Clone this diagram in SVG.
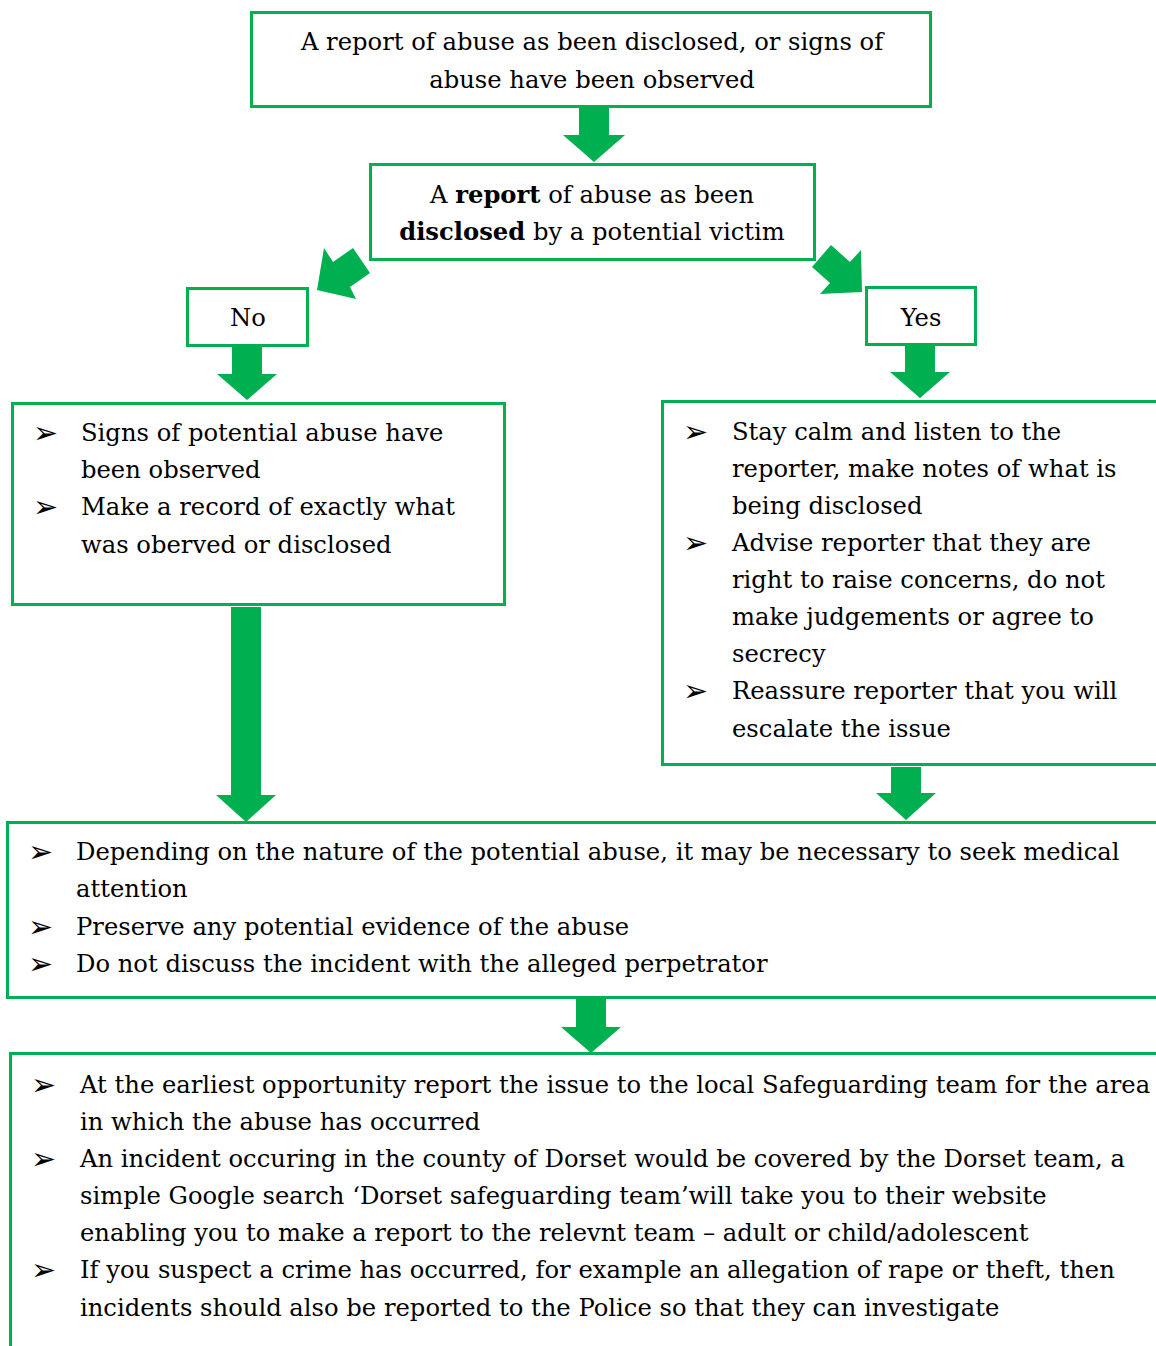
<svg xmlns="http://www.w3.org/2000/svg" width="1156" height="1346" viewBox="0 0 1156 1346">
<style>
.box{fill:#fff;stroke:#00B050;stroke-width:3}
.arr{fill:#00B050}
text{font-family:"DejaVu Serif","Liberation Serif",serif;font-size:24.25px;fill:#000}
.c{text-anchor:middle}
.b{font-weight:bold}
.bl{font-family:"DejaVu Sans",sans-serif;font-size:30px}
</style>
<rect width="1156" height="1346" fill="#fff"/>
<g id="connectors">
<polygon class="arr" points="579,108 609,108 609,135 625,135 594,162 563,135 579,135"/>
<polygon class="arr" points="353,248 370,273 350,287 356,299 317,290 324,248 333,262"/>
<polygon class="arr" points="831,245 812,267 830,283 820,294 862,292 861,250 850,262"/>
<polygon class="arr" points="232,347 262,347 262,374 277,374 247,400 217,374 232,374"/>
<polygon class="arr" points="905,345 935,345 935,372 950,372 920,398 890,372 905,372"/>
<polygon class="arr" points="231,607 261,607 261,795 276,795 246,822 216,795 231,795"/>
<polygon class="arr" points="891,767 921,767 921,793 936,793 906,820 876,793 891,793"/>
<polygon class="arr" points="576,999 606,999 606,1027 621,1027 591,1053 561,1027 576,1027"/>
</g>
<g id="n1">
<rect class="box" x="251.5" y="12.5" width="679" height="94"/>
<text class="c" x="592" y="50">A report of abuse as been disclosed, or signs of</text>
<text class="c" x="592" y="88">abuse have been observed</text>
</g>
<g id="n2">
<rect class="box" x="370.5" y="164.5" width="444" height="95"/>
<text class="c" x="592" y="203">A <tspan class="b">report</tspan> of abuse as been</text>
<text class="c" x="592" y="240"><tspan class="b">disclosed</tspan> by a potential victim</text>
</g>
<g id="no">
<rect class="box" x="187.5" y="288.5" width="120" height="57"/>
<text class="c" x="248" y="326">No</text>
</g>
<g id="yes">
<rect class="box" x="866.5" y="287.5" width="109" height="57"/>
<text class="c" x="921" y="326">Yes</text>
</g>
<g id="left">
<rect class="box" x="12.5" y="403.5" width="492" height="201"/>
<text class="bl" x="33" y="443">➢</text>
<text x="81" y="441">Signs of potential abuse have</text>
<text x="81" y="478">been observed</text>
<text class="bl" x="33" y="517">➢</text>
<text x="81" y="515">Make a record of exactly what</text>
<text x="81" y="553">was oberved or disclosed</text>
</g>
<g id="right">
<rect class="box" x="662.5" y="401.5" width="500" height="363"/>
<text class="bl" x="683" y="442">➢</text>
<text x="732" y="440">Stay calm and listen to the</text>
<text x="732" y="477">reporter, make notes of what is</text>
<text x="732" y="514">being disclosed</text>
<text class="bl" x="683" y="553">➢</text>
<text x="732" y="551">Advise reporter that they are</text>
<text x="732" y="588">right to raise concerns, do not</text>
<text x="732" y="625">make judgements or agree to</text>
<text x="732" y="662">secrecy</text>
<text class="bl" x="683" y="701">➢</text>
<text x="732" y="699">Reassure reporter that you will</text>
<text x="732" y="737">escalate the issue</text>
</g>
<g id="mid">
<rect class="box" x="7.5" y="822.5" width="1155" height="175"/>
<text class="bl" x="28" y="862">➢</text>
<text x="76" y="860">Depending on the nature of the potential abuse, it may be necessary to seek medical</text>
<text x="76" y="897">attention</text>
<text class="bl" x="28" y="937">➢</text>
<text x="76" y="935">Preserve any potential evidence of the abuse</text>
<text class="bl" x="28" y="974">➢</text>
<text x="76" y="972">Do not discuss the incident with the alleged perpetrator</text>
</g>
<g id="bottom">
<rect class="box" x="10.5" y="1053.5" width="1155" height="310"/>
<text class="bl" x="31" y="1095">➢</text>
<text x="80" y="1093">At the earliest opportunity report the issue to the local Safeguarding team for the area</text>
<text x="80" y="1130">in which the abuse has occurred</text>
<text class="bl" x="31" y="1169">➢</text>
<text x="80" y="1167">An incident occuring in the county of Dorset would be covered by the Dorset team, a</text>
<text x="80" y="1204">simple Google search ‘Dorset safeguarding team’will take you to their website</text>
<text x="80" y="1241">enabling you to make a report to the relevnt team – adult or child/adolescent</text>
<text class="bl" x="31" y="1280">➢</text>
<text x="80" y="1278">If you suspect a crime has occurred, for example an allegation of rape or theft, then</text>
<text x="80" y="1316">incidents should also be reported to the Police so that they can investigate</text>
</g>
</svg>
